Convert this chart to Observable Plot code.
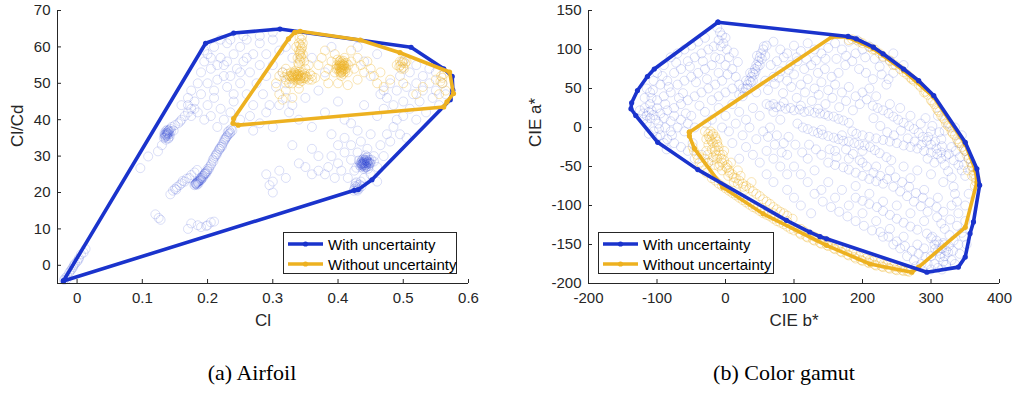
<!DOCTYPE html>
<html>
<head>
<meta charset="utf-8">
<script src="https://cdn.jsdelivr.net/npm/d3@7"></script>
<script src="https://cdn.jsdelivr.net/npm/@observablehq/plot@0.6"></script>
<style>
  html, body { margin: 0; padding: 0; background: #fff; }
  #wrap { position: relative; width: 1016px; height: 395px; background: #fff; overflow: hidden; }
  .panel { position: absolute; top: 0; }
  .caption { position: absolute; top: 360px; font-family: "Liberation Serif", "Times New Roman", serif; font-size: 22px; color: #000; transform: translateX(-50%); white-space: nowrap; }
  .legend { position: absolute; box-sizing: border-box; border: 1px solid #262626; background: #fff; font-family: "Liberation Sans", Arial, sans-serif; font-size: 15px; color: #000; }
  .legend .row { position: absolute; left: 3px; height: 20px; display: flex; align-items: center; white-space: nowrap; }
  .legend svg { margin-right: 4px; }
</style>
</head>
<body>
<div id="wrap"></div>
<script>
const BLUE = "#1a33cc";
const ORANGE = "#edb120";

// ---------- Panel (a) Airfoil ----------
const airfoilXTicks = [0, 0.1, 0.2, 0.3, 0.4, 0.5, 0.6];
const airfoilYTicks = [0, 10, 20, 30, 40, 50, 60, 70];

const airfoilHullWith = [[-0.021,-4.3],[0.197,61.0],[0.240,63.8],[0.311,64.9],[0.512,59.9],[0.562,54.0],[0.575,51.9],[0.576,48.1],[0.572,45.5],[0.452,23.5],[0.431,20.8],[0.425,20.6],[-0.021,-4.3]];
const airfoilHullWithout = [[0.334,64.0],[0.342,64.3],[0.434,61.9],[0.495,58.4],[0.571,53.1],[0.577,47.2],[0.567,44.9],[0.562,43.5],[0.247,38.5],[0.239,39.0],[0.240,40.3],[0.324,62.2],[0.334,64.0]];

const airfoilPointsWith = [
[-0.02,-4],[-0.018,-3.5],[-0.015,-3],[-0.012,-2],[-0.01,-1.5],[-0.008,-1],[-0.005,0],[-0.003,0.5],[0,1],[0.003,2],[0.006,3],[0.01,3.5],[0.013,4.5],[-0.016,-3.8],[-0.006,-0.5],[0.002,1.5],
[0.12,14],[0.128,12.5],[0.125,13],[0.17,10],[0.175,11.5],[0.185,11],[0.19,10.5],[0.2,11],[0.205,11.8],[0.21,12],[0.198,10.8],
[0.143,19.5],[0.147,20.5],[0.15,21],[0.153,21.5],[0.157,22],[0.16,22.5],[0.165,23],[0.168,23.8],[0.172,24],[0.175,24.8],[0.18,25.5],[0.184,26.2],[0.152,20.8],[0.162,23.2],
[0.18,22],[0.182,22.5],[0.185,23],[0.183,22.3],[0.188,23.5],[0.19,24],[0.192,24.5],[0.195,25],[0.197,25.5],[0.2,26],[0.198,25.2],[0.203,27],[0.206,28],[0.208,29],[0.21,29.5],[0.212,30],[0.215,31],[0.217,31.5],[0.22,32.5],[0.222,33],[0.225,34],[0.227,34.5],[0.23,35.5],[0.232,36],[0.235,36.5],[0.233,37],[0.228,35],[0.218,32],[0.213,30.5],[0.2,26.5],[0.187,23.2],[0.19,23.6],
[0.181,22.2],[0.184,22.8],[0.186,22.4],[0.189,23.9],[0.193,24.2],[0.196,25.3],[0.199,25.8],[0.202,26.4],[0.205,27.5],[0.209,28.6],[0.214,30.4],[0.219,32],[0.224,33.6],[0.229,35.2],[0.234,36.2],[0.231,36.6],[0.226,34.6],[0.236,37.4],[0.238,37],[0.222,32.6],
[0.182,22.4],[0.183,22.6],[0.185,22.7],[0.186,23],[0.188,23.2],[0.184,22.1],[0.19,23.4],[0.192,23.9],[0.194,24.6],[0.196,25.1],
[0.133,35],[0.135,36],[0.137,36.5],[0.14,37],[0.138,35.5],[0.142,36],[0.136,34.5],[0.14,35],[0.143,37.5],[0.145,38],[0.15,38.5],[0.155,39],[0.16,40],[0.165,41],[0.17,42],[0.175,43],[0.148,37],[0.158,39.5],[0.134,35.8],[0.139,36.8],
[0.135,35.4],[0.137,35.8],[0.139,36.2],[0.141,36.6],[0.136,36.9],[0.138,37.2],[0.14,34.8],[0.134,36.3],[0.142,35.4],[0.144,36.8],
[0.136,35.6],[0.137,36.1],[0.138,36.4],[0.139,35.9],[0.14,36.3],[0.135,35.1],[0.141,37.1],
[0.097,26.7],[0.109,29.9],[0.124,31.3],[0.13,33],
[0.16,44],[0.17,46],[0.175,48],[0.18,45],[0.185,50],[0.19,47],[0.19,53],[0.195,56],[0.2,58],[0.2,50],[0.205,54],[0.21,60],[0.21,46],[0.215,51],[0.22,57],[0.22,43],[0.225,55],[0.23,49],[0.23,61],[0.235,52],[0.24,58],[0.24,45],[0.245,54],[0.25,60],[0.25,50],[0.255,56],[0.26,47],[0.26,62],[0.265,53],[0.27,58],[0.27,44],[0.275,50],[0.28,55],[0.28,61],[0.285,47],[0.29,52],[0.29,58],[0.295,44],[0.3,55],[0.3,62],[0.305,49],[0.31,59],[0.315,53],[0.32,46],[0.32,60],[0.325,42],[0.33,57],[0.21,48],[0.2,44],[0.185,42],[0.195,40],[0.205,41],[0.215,38],[0.225,40],[0.235,42],[0.25,40],[0.265,41],[0.28,39],[0.3,38],[0.29,42],[0.27,37],[0.31,44],[0.24,47],[0.225,52],[0.215,55],[0.205,57],[0.195,59],[0.235,62],[0.255,63],[0.28,63],[0.3,64],[0.22,62],[0.26,57],[0.23,56],[0.25,53],[0.18,43],[0.175,41],[0.17,44],
[0.34,40],[0.36,38],[0.38,42],[0.4,45],[0.42,39],[0.44,44],[0.46,41],[0.37,48],[0.39,60],[0.36,57],[0.43,60],[0.46,58],[0.35,46],[0.33,44],[0.45,52],[0.47,48],[0.41,40],[0.39,36],[0.32,50],[0.38,53],[0.44,56],
[0.475,46],[0.48,50],[0.485,44],[0.49,48],[0.495,52],[0.5,45],[0.5,41],[0.505,49],[0.51,53],[0.51,43],[0.515,47],[0.52,50],[0.52,40],[0.525,45],[0.53,52],[0.53,48],[0.535,42],[0.54,50],[0.545,46],[0.55,53],[0.55,48],[0.555,44],[0.56,50],[0.565,47],[0.485,38],[0.495,36],[0.505,35],[0.49,40],[0.47,43],[0.465,47],[0.54,54],[0.52,55],[0.5,56],
[0.435,27],[0.438,28],[0.44,28.5],[0.442,27.5],[0.445,28],[0.437,29],[0.443,29.5],[0.447,28.5],[0.44,27],[0.436,28.5],[0.444,27],[0.441,29],[0.448,29],[0.433,27.5],[0.45,28],[0.439,26.5],
[0.437,27.8],[0.441,28.2],[0.443,28.8],[0.446,27.8],[0.439,29.3],[0.434,28.2],[0.442,26.8],[0.449,28.2],[0.445,29.8],[0.438,27.3],[0.44,28],[0.444,28.4],[0.436,27.6],[0.447,27.2],[0.451,29],[0.432,28.8],[0.442,30.2],[0.446,26.5],[0.428,26.8],[0.455,28.5],
[0.439,28.1],[0.44,27.7],[0.441,28.6],[0.442,28],[0.443,27.6],[0.444,28.1],[0.438,28.4],[0.437,27.4],[0.445,28.6],[0.446,28.3],[0.44,28.9],[0.443,27.1],[0.441,27.3],[0.436,28],[0.448,27.9],[0.435,27.9],[0.439,27.6],[0.444,29],
[0.425,21],[0.428,21.5],[0.43,22],[0.432,21],[0.427,22.5],[0.435,23],[0.43,20.5],[0.426,21.8],[0.431,21.4],[0.429,20.8],[0.433,22.2],[0.424,20.5],[0.436,21.7],[0.428,22.8],
[0.38,25],[0.385,27],[0.39,30],[0.395,24],[0.4,33],[0.4,28],[0.405,26],[0.41,31],[0.41,35],[0.415,24],[0.42,29],[0.42,33],[0.425,26],[0.43,31],[0.435,34],[0.44,24],[0.445,32],[0.45,25],[0.455,30],[0.46,27],[0.465,33],[0.47,30],[0.475,36],[0.48,34],[0.37,26],[0.36,25],[0.35,27],[0.45,36],[0.43,37],[0.46,23],
[0.29,25],[0.3,23],[0.295,22],[0.31,26],[0.32,24],[0.3,20],[0.34,28],[0.36,32],[0.33,33],[0.37,30]
];

const airfoilPointsWithout = [
[0.34,55],[0.342,56],[0.344,57],[0.341,58],[0.343,59],[0.345,60],[0.34,61],[0.344,62],[0.338,57],[0.346,58],[0.336,60],[0.348,56],
[0.341,56.5],[0.343,57.5],[0.342,58.5],[0.344,59.5],[0.342,60.5],[0.341,62.5],[0.345,63],[0.339,55.5],[0.346,61],[0.34,59],
[0.31,52],[0.315,53],[0.32,51],[0.325,52],[0.328,53],[0.33,51.5],[0.332,52],[0.335,51],[0.338,52.5],[0.34,51],[0.342,52],[0.345,53],[0.348,51.5],[0.35,52],[0.355,51],[0.36,52],[0.365,51.5],[0.33,50],[0.335,53.5],[0.32,54],[0.325,50],[0.34,50],[0.31,47],[0.315,45.5],[0.32,48],[0.33,46],[0.34,48.5],[0.305,50],[0.35,54],[0.355,55],
[0.328,52],[0.33,52.5],[0.332,51],[0.334,52.8],[0.336,51.8],[0.338,51.3],[0.339,52],[0.343,51.5],[0.346,52.3],[0.349,52.6],[0.352,51.8],[0.326,51.2],[0.322,52.6],[0.344,50.6],[0.357,52.5],[0.333,53],[0.331,52.2],[0.337,52.2],[0.341,53.2],[0.318,51.7],[0.36,51],
[0.334,51.6],[0.336,52.4],[0.338,51.9],[0.34,52.4],[0.342,51.2],[0.344,52],[0.346,51.4],[0.333,52.4],[0.329,51.8],[0.35,51.3],
[0.4,54],[0.403,55],[0.405,53],[0.407,54.5],[0.41,55.5],[0.408,53.5],[0.402,56],[0.412,54],[0.405,52],[0.398,55],[0.41,57],[0.395,53],[0.415,53],[0.39,56],[0.385,54],[0.38,52],[0.42,56],[0.425,54],[0.43,57],[0.435,55],[0.44,53],[0.445,56],[0.45,54],[0.455,52],[0.395,58],[0.42,59],[0.4,50],[0.43,51],[0.385,50],[0.37,55],[0.375,57],[0.46,50],[0.465,53],[0.47,49],[0.415,49.5],[0.38,59],
[0.403,54],[0.405,54.8],[0.407,55.2],[0.409,54.2],[0.404,53.6],[0.406,55.8],[0.401,54.8],[0.408,56.2],[0.411,53.2],[0.404,52.8],[0.41,54.8],[0.402,53.2],[0.406,54],[0.399,56.5],[0.413,55.6],[0.397,54],[0.408,52.6],[0.416,55],
[0.404,54.3],[0.406,54.6],[0.405,55.3],[0.407,53.9],[0.403,55.6],[0.409,55],[0.405,53.4],[0.402,54.5],[0.408,54.9],[0.406,53.1],[0.404,56.3],[0.41,53.8],
[0.49,55],[0.495,56],[0.5,54.5],[0.503,55.5],[0.497,54],[0.505,56],[0.496,55],[0.499,55.6],[0.501,54],[0.494,54.6],[0.502,56.5],[0.498,56],
[0.55,51],[0.558,52],[0.56,50],[0.555,47],[0.565,48],[0.53,49],[0.52,47],[0.5,50],[0.48,51],[0.56,51.5],[0.562,52.5],[0.557,50.5]
];

// ---------- Panel (b) Color gamut ----------
const gamutXTicks = [-200, -100, 0, 100, 200, 300, 400];
const gamutYTicks = [-200, -150, -100, -50, 0, 50, 100, 150];

const gamutHullWith = [[-11,135],[179,116.7],[191,113.7],[216,103],[230,94.5],[260,75],[282,60],[304,41],[350,-19],[367,-53],[371,-74],[362,-121],[357,-136],[350,-166],[340,-179],[294,-185.5],[147.5,-142.7],[138,-140],[123,-134],[89,-119],[-40.5,-54],[-99,-19],[-131,15.4],[-138,24],[-137,31.7],[-128.5,47.4],[-114,65.4],[-104,75],[-11,135]];
const gamutHullWithout = [[-52.7,-6],[155,116],[178,116],[216,101],[260,73],[304,39],[350,-21],[365,-55],[367,-70],[350,-128],[282,-179],[272,-185.5],[211,-175],[147.5,-151],[55,-110.6],[-4,-76.5],[-45.4,-27],[-52.7,-11],[-52.7,-6]];

const gamutPointsWith = [
[-12,128],[-8,122],[-5,118],[-10,112],[-3,108],[0,115],[-7,104],[2,100],
[-100,70],[-90,80],[-80,90],[-70,95],[-60,100],[-50,105],[-40,110],[-30,115],[-95,55],[-85,60],[-75,70],[-65,75],[-55,85],[-45,90],[-35,95],[-25,100],[-15,90],[-20,80],[-30,75],[-40,70],[-50,65],[-60,60],[-70,55],[-80,45],[-90,40],[-100,35],[-110,45],[-115,50],[-105,60],[-10,70],[-5,60],[0,80],[5,90],[10,75],[15,65],[-15,55],[-25,50],[-35,45],[-45,40],[-55,35],[-65,30],[-75,25],[-20,35],[-10,40],[0,45],[10,50],[20,55],
[-118,38],[-106,48],[-92,66],[-83,52],[-72,83],[-62,44],[-52,78],[-43,58],[-33,85],[-27,62],[-17,104],[-8,88],[3,68],[12,96],[18,84],[-38,28],[-28,5],[-48,-20],[-58,18],[-68,38],[-78,-10],[-88,30],[-97,-2],[-108,38],[-112,-8],[-86,-28],
[-125,22],[-120,18],[-118,25],[-115,15],[-112,20],[-110,12],[-108,22],[-105,16],[-102,10],[-100,25],[-98,5],[-95,18],[-90,12],[-88,0],[-85,22],[-80,8],[-75,15],[-70,0],[-65,10],[-60,-5],[-55,5],[-50,15],[-45,0],[-115,5],[-105,-5],[-95,-10],[-85,-15],[-75,-20],[-65,-25],[-55,-30],[-45,-40],[-120,10],[-110,30],[-100,-12],[-90,-20],[-80,-5],
[55,100],[52,95],[50,90],[48,85],[45,80],[43,75],[40,70],[38,65],[35,60],[32,55],[30,50],[28,45],[25,40],[53,88],[47,78],[42,68],[37,58],[33,50],[50,80],[44,72],[58,92],[40,60],[36,70],[46,92],[56,104],[30,60],[25,50],[20,42],
[-30,20],[-20,10],[-10,25],[0,15],[10,30],[20,20],[30,10],[40,25],[50,15],[60,30],[70,20],[80,10],[-5,0],[5,-5],[15,5],[25,-10],[35,0],[45,-15],[55,-5],[65,0],[75,-10],[85,-20],[30,-25],[40,-35],[50,-45],[60,-30],[70,-40],[80,-50],[20,-40],[10,-20],[-35,-35],[-25,-45],[60,-60],[70,-70],[90,-60],[100,-50],[90,-35],
[60,105],[70,110],[80,100],[90,95],[100,105],[110,98],[120,108],[130,100],[140,95],[150,102],[160,108],[170,100],[180,110],[190,95],[200,100],[210,104],[75,85],[85,90],[95,80],[105,85],[115,75],[125,80],[135,70],[145,75],[155,65],[165,70],[175,80],[185,85],[195,75],[205,70],[215,62],[225,78],[230,90],[240,85],[245,70],[70,65],[80,72],[90,60],[100,68],[110,55],[120,62],[130,50],[140,58],[150,48],[160,55],[170,45],[180,52],[190,40],[200,45],[210,50],[220,40],[235,55],
[45,45],[58,60],[66,80],[78,64],[92,74],[104,90],[118,88],[132,86],[146,88],[162,88],[176,92],[192,112],[204,90],[218,88],[228,68],[238,62],
[62,48],[72,56],[84,44],[96,52],[104,38],[116,45],[126,34],[136,42],[146,30],[156,38],[166,26],[176,34],[186,22],[196,30],[206,36],
[65,28],[70,30],[74,26],[80,27],[88,24],[95,25],[100,22],[108,23],[115,20],[122,21],[130,19],[138,18],[145,17],[150,15],[158,14],[165,11],[172,9],[180,6],[85,32],[110,28],[135,24],
[105,5],[113,0],[120,-2],[128,-5],[135,-7],[142,-9],[150,-11],[158,-13],[165,-15],[172,-17],[180,-18],[188,-20],[195,-22],[203,-23],[211,-25],[218,-29],[225,-33],[235,-38],[242,-42],[140,-3],[170,-10],[200,-30],
[185,-5],[191,-8],[200,-10],[210,-12],[220,-14],[230,-16],[240,-18],[250,-20],[260,-23],[270,-25],[280,-27],[290,-30],[300,-32],[309,-34],[315,-40],[320,-48],[325,-56],[330,-64],[333,-76],[335,-85],[338,-95],[305,-45],[318,-70],[295,-40],
[215,28],[222,25],[230,22],[238,18],[245,14],[252,10],[260,6],[268,2],[275,-2],[282,-7],[288,-12],[294,-17],[300,-22],[308,-27],[315,-32],[322,-36],[333,-42],[340,-48],[345,-55],[350,-62],[240,30],[255,25],[270,15],[285,5],[300,-5],[315,-15],[330,-25],
[216,12],[226,2],[236,-6],[246,-10],[256,-4],[266,-14],[276,-18],[286,-22],[296,-12],[306,-18],[316,-24],[326,-34],[336,-30],[342,-38],[348,-48],
[150,-45],[160,-48],[172,-51],[180,-54],[190,-58],[200,-62],[210,-66],[220,-69],[230,-72],[245,-76],[255,-82],[265,-88],[275,-95],[285,-101],[295,-108],[309,-115],[315,-123],[320,-130],[327,-138],[333,-145],[340,-150],[345,-135],[350,-120],[340,-110],[330,-100],[350,-100],[355,-85],
[62,-12],[72,-22],[82,-32],[92,-12],[102,-22],[112,-32],[122,-22],[132,-28],[152,-28],[162,-38],[176,-28],[186,-34],[196,-42],[206,-50],[216,-58],[226,-62],[236,-66],[248,-64],[258,-70],[268,-76],[278,-84],[288,-90],[298,-96],[308,-102],[318,-108],[328,-118],[338,-126],[348,-140],[352,-150],[342,-162],[332,-158],[322,-176],[316,-182],
[190,-90],[200,-94],[210,-98],[221,-102],[230,-107],[240,-112],[250,-117],[260,-122],[270,-127],[280,-131],[294,-136],[300,-142],[305,-150],[310,-158],[313,-166],[318,-172],[300,-165],[290,-155],[320,-150],[325,-160],[330,-170],[335,-175],[305,-175],[310,-180],[295,-175],
[130,-85],[142,-95],[154,-102],[166,-108],[178,-114],[190,-120],[202,-126],[214,-132],[226,-134],[238,-140],[250,-146],[262,-152],[272,-158],[282,-162],[292,-166],[286,-175],[278,-178],[300,-182],
[302,-140],[308,-145],[312,-150],[316,-155],[322,-158],[318,-148],[326,-152],[314,-162],[306,-156],[320,-165],
[110,-60],[120,-70],[130,-55],[140,-80],[150,-70],[160,-90],[170,-80],[180,-100],[190,-75],[200,-110],[210,-85],[220,-120],[230,-95],[240,-130],[250,-100],[260,-140],[270,-110],[280,-150],[290,-120],[255,-155],[265,-165],[275,-170],[230,-140],[245,-150],[120,-40],[140,-35],[160,-30],[180,-40],[200,-45],[220,-50],[240,-55],[260,-50],[280,-55],[300,-60],[270,-65],[290,-80],[310,-90],[100,-90],[110,-100],[125,-110],[90,-80],
[340,-20],[350,-30],[355,-40],[360,-50],[345,-10],[335,0],[325,5],[310,15],[260,80],[245,95],[292,12],[302,2],[312,-6],[320,-4]
];

const gamutPointsWithout = [
[-30,-5],[-25,-8],[-20,-10],[-15,-12],[-22,-15],[-18,-20],[-12,-18],[-25,-22],[-28,-15],[-10,-25],[-15,-30],[-20,-28],[-8,-35],[-12,-40],[-5,-45],[-18,-38],[0,-50],[-5,-55],[5,-55],[10,-60],[3,-48],[-10,-50],[8,-45],[15,-65],[20,-68],[25,-72],[30,-75],[35,-78],[40,-82],[45,-85],[50,-88],[55,-92],[60,-95],[65,-98],[70,-102],[75,-105],[80,-108],[85,-110],[90,-113],[98,-117],[12,-70],[22,-62],[28,-80],[38,-70],[18,-55],[-2,-30],[-28,-30],[-30,-40],[-25,-45],
[-22,-5],[-18,-8],[-14,-15],[-20,-18],[-16,-25],[-10,-30],[-14,-35],[-6,-40],[-2,-42],[2,-52],[6,-58],[-8,-48],[-24,-12],[-12,-22],[-4,-35],[4,-62],[12,-64],[18,-72],[26,-76],[-20,-42],[-26,-35],[-16,-48],
[-48,-25],[-40,-40],[-30,-55],[-20,-65],[-10,-72],[0,-78],[10,-84],[20,-90],[30,-96],[40,-102],[50,-107],[60,-112],[70,-117],[80,-122],[90,-127],[100,-132],[110,-137],[120,-141],[130,-145],[140,-149],[150,-152],[160,-156],[170,-160],[180,-164],[190,-168],[200,-171],[210,-174],[220,-177],[230,-179],[240,-181],[250,-183],[260,-184],[268,-185],[105,-130],[125,-138],[145,-145],[165,-153],[185,-160],[205,-168],[225,-173],[245,-178],[115,-133],[135,-142],[155,-150],[175,-157],[195,-165],[215,-171],[235,-176],[255,-180],
[-46,-30],[-38,-45],[-28,-58],[-15,-68],[-5,-75],[5,-81],[15,-87],[25,-93],[35,-99],[45,-104],[55,-110],[65,-114],[75,-120],[85,-124],[95,-130],[108,-135],[118,-140],[128,-144],[138,-148],[148,-151],[158,-155],[168,-159],[178,-163],[188,-166],[198,-170],[208,-173],[218,-176],[228,-178],[238,-180],[248,-182],[258,-183],[265,-184],[-42,-35],[-35,-50],[70,-110],[90,-120],[110,-130],[130,-140],[150,-147],[170,-155],[190,-162],[210,-170],[230,-175],[250,-179],
[180,112],[195,110],[210,103],[225,95],[240,86],[255,75],[265,68],[275,60],[285,52],[295,42],[300,35],[308,25],[315,15],[322,5],[330,-5],[338,-15],[345,-25],[352,-35],[358,-45],[362,-55],[365,-65],[364,-75],[290,45],[305,30],[320,10],[335,-10],[350,-30],[270,64],[245,80],[218,100],[312,20],[328,0],[342,-20],
[185,113],[200,108],[215,100],[230,91],[248,80],[260,71],[272,62],[282,55],[292,46],[302,33],[310,22],[318,12],[325,2],[332,-8],[340,-18],[348,-28],[355,-40],[360,-50],[363,-60],[366,-70],[360,-62],[354,-55]
];

const legendLabels = ["With uncertainty", "Without uncertainty"];
const captions = ["(a) Airfoil", "(b) Color gamut"];

function panel({xDomain, yDomain, xTicks, yTicks, xFmt, yFmt, xLabel, yLabel, yLabelDx, ptsWith, ptsWithout, hullWith, hullWithout, mL, mR, orangeOnTop}) {
  const X = d => d[0], Y = d => d[1];
  const hullMarks = [
    Plot.line(hullWith, {x: X, y: Y, stroke: BLUE, strokeWidth: 3.6, strokeLinejoin: "round"}),
    Plot.dot(hullWith, {x: X, y: Y, r: 2.6, fill: BLUE}),
  ];
  const hullMarks2 = [
    Plot.line(hullWithout, {x: X, y: Y, stroke: ORANGE, strokeWidth: 3.6, strokeLinejoin: "round"}),
    Plot.dot(hullWithout, {x: X, y: Y, r: 2.6, fill: ORANGE}),
  ];
  return Plot.plot({
    width: 508, height: 340,
    marginLeft: mL, marginRight: mR, marginTop: 10, marginBottom: 57,
    style: {fontFamily: "'Liberation Sans', Arial, sans-serif", fontSize: "15px", color: "#262626", background: "transparent"},
    x: {domain: xDomain, label: null},
    y: {domain: yDomain, label: null},
    marks: [
      Plot.dot(ptsWith, {x: X, y: Y, r: 4.5, stroke: BLUE, strokeOpacity: 0.2, strokeWidth: 0.8, fill: "none"}),
      Plot.dot(ptsWithout, {x: X, y: Y, r: 4.5, stroke: ORANGE, strokeOpacity: 0.42, strokeWidth: 0.8, fill: "none"}),
      ...(orangeOnTop ? [...hullMarks, ...hullMarks2] : [...hullMarks2, ...hullMarks]),
      Plot.ruleY([yDomain[0]], {stroke: "#262626", strokeWidth: 1}),
      Plot.ruleX([xDomain[0]], {stroke: "#262626", strokeWidth: 1}),
      Plot.axisX(xTicks, {tickSize: -4, tickPadding: 13, tickFormat: xFmt, stroke: "#262626", fill: "#262626", label: null}),
      Plot.axisY(yTicks, {tickSize: -4, tickPadding: 11, tickFormat: yFmt, stroke: "#262626", fill: "#262626", label: null}),
      Plot.text([xLabel], {frameAnchor: "bottom", dy: 42, fontSize: 17, fill: "#262626"}),
      Plot.text([yLabel], {frameAnchor: "left", dx: yLabelDx, rotate: -90, fontSize: 17, fill: "#262626"})
    ]
  });
}

const wrap = document.getElementById("wrap");

const pa = panel({
  xDomain: [-0.03, 0.6], yDomain: [-5, 70], xTicks: airfoilXTicks, yTicks: airfoilYTicks,
  xFmt: d => d === 0 ? "0" : d.toFixed(1), yFmt: d => String(d),
  xLabel: "Cl", yLabel: "Cl/Cd", yLabelDx: -40,
  ptsWith: airfoilPointsWith, ptsWithout: airfoilPointsWithout,
  hullWith: airfoilHullWith, hullWithout: airfoilHullWithout, mL: 57, mR: 40, orangeOnTop: true
});
pa.classList.add("panel"); pa.style.left = "0px";
wrap.appendChild(pa);

const pb = panel({
  xDomain: [-200, 400], yDomain: [-200, 150], xTicks: gamutXTicks, yTicks: gamutYTicks,
  xFmt: d => String(d), yFmt: d => String(d),
  xLabel: "CIE b*", yLabel: "CIE a*", yLabelDx: -53,
  ptsWith: gamutPointsWith, ptsWithout: gamutPointsWithout,
  hullWith: gamutHullWith, hullWithout: gamutHullWithout, mL: 80, mR: 17, orangeOnTop: false
});
pb.classList.add("panel"); pb.style.left = "508px";
wrap.appendChild(pb);

function legend(left, top, width, lineW) {
  const div = document.createElement("div");
  div.className = "legend";
  div.style.left = left + "px"; div.style.top = top + "px";
  div.style.width = width + "px"; div.style.height = "42px";
  [BLUE, ORANGE].forEach((c, i) => {
    const row = document.createElement("div");
    row.className = "row";
    row.style.top = (1 + i * 20) + "px";
    row.innerHTML = `<svg width="${lineW}" height="10"><line x1="1" x2="${lineW - 1}" y1="5" y2="5" stroke="${c}" stroke-width="3.5"/><circle cx="${lineW / 2}" cy="5" r="2.6" fill="${c}"/></svg><span>${legendLabels[i]}</span>`;
    div.appendChild(row);
  });
  wrap.appendChild(div);
}
legend(283, 232, 174, 37);
legend(598, 232, 176, 37);

captions.forEach((t, i) => {
  const c = document.createElement("div");
  c.className = "caption";
  c.textContent = t;
  c.style.left = (i === 0 ? 252 : 784) + "px";
  wrap.appendChild(c);
});
</script>
</body>
</html>
